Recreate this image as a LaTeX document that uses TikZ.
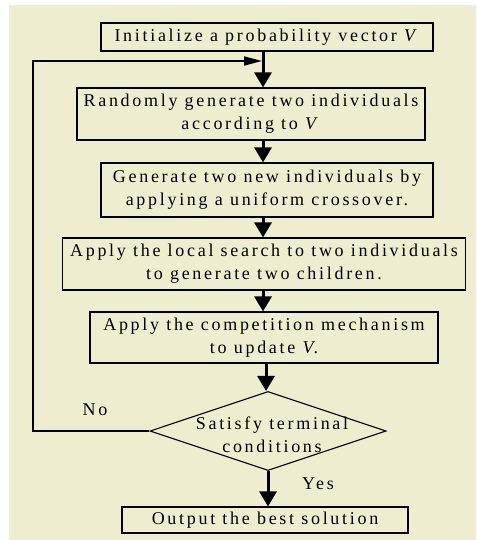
\documentclass[tikz,border=0pt]{standalone}
\usepackage{fontspec}
\setmainfont{Liberation Serif}[LetterSpace=15]
\usetikzlibrary{arrows.meta,shapes.geometric}
\definecolor{bg}{HTML}{EFEDCF}
\tikzset{
  stepbox/.style={draw=black, line width=1.1pt, rectangle, inner sep=0pt, align=center,
    font=\fontsize{18}{23}\selectfont},
  flow/.style={line width=3pt, -{Triangle[width=17pt,length=15pt]}},
  back/.style={line width=1.8pt, -{Triangle[width=9pt,length=18pt]}},
  lbl/.style={font=\fontsize{18}{23}\selectfont, inner sep=0pt},
}
\begin{document}
\begin{tikzpicture}[x=1pt,y=-1pt]
\useasboundingbox (0,0) rectangle (476,540);
\fill[white] (0,0) rectangle (476,540);
\fill[bg] (9,5) rectangle (476,540);
\coordinate (axis) at (263,0);
\coordinate (axisb) at (266,0);
\coordinate (loopx) at (33,0);
\coordinate (join) at (262,61);
\node[stepbox, minimum width=332pt, minimum height=28pt] (b1) at (267,37) {Initialize a probability vector \textit{V}};
\node[stepbox, minimum width=348pt, minimum height=52pt] (b2) at (251,114) {Randomly generate two individuals\\according to \textit{V}};
\node[stepbox, minimum width=332pt, minimum height=54pt] (b3) at (267,190) {Generate two new individuals by\\applying a uniform crossover.};
\node[stepbox, minimum width=403pt, minimum height=52pt] (b4) at (264,264) {Apply the local search to two individuals\\to generate two children.};
\node[stepbox, minimum width=348pt, minimum height=51pt] (b5) at (264,337.5) {Apply the competition mechanism\\to update \textit{V}.};
\node[draw=black, line width=1.1pt, diamond, minimum width=236pt, minimum height=79pt, inner sep=0pt] (d) at (268,431) {};
\node[lbl, align=center] (dt) at (272,435) {Satisfy terminal\\conditions};
\node[stepbox, minimum width=286pt, minimum height=26pt] (b6) at (265,520) {Output the best solution};
\node[lbl] (no) at (95,410) {No};
\node[lbl] (yes) at (318,484) {Yes};
\draw[flow] (b1.south -| axis) -- (b2.north -| axis);
\draw[flow] (b2.south -| axis) -- (b3.north -| axis);
\draw[flow] (b3.south -| axis) -- (b4.north -| axis);
\draw[flow] (b4.south -| axis) -- (b5.north -| axis);
\draw[flow] (b5.south -| axisb) -- (d.north -| axisb);
\draw[flow] (d.south) -- (b6.north -| d.south);
\draw[back] (d.west) -- (d.west -| loopx) |- (join);
\end{tikzpicture}
\end{document}
